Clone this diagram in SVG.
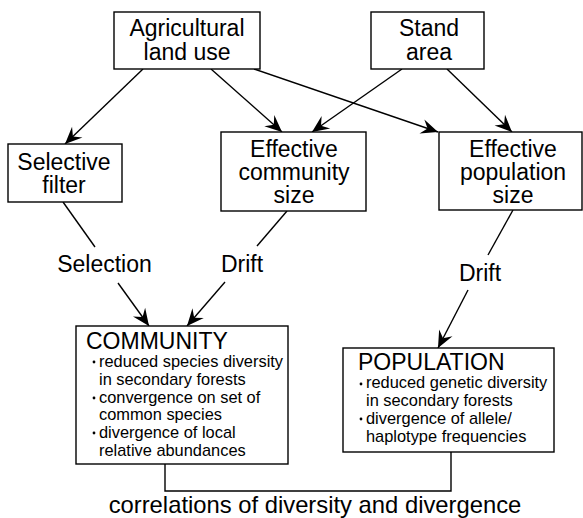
<svg xmlns="http://www.w3.org/2000/svg" width="583" height="518" viewBox="0 0 583 518">
<style>
.box{fill:#fff;stroke:#000;stroke-width:1.4}
.t{font-family:"Liberation Sans",Arial,Helvetica,sans-serif;font-size:23px;fill:#000;text-anchor:middle}
.h{font-family:"Liberation Sans",Arial,Helvetica,sans-serif;font-size:23px;fill:#000}
.b{font-family:"Liberation Sans",Arial,Helvetica,sans-serif;font-size:16.4px;fill:#000}
.ln{fill:none;stroke:#000;stroke-width:1.4}
.ar{fill:none;stroke:#000;stroke-width:1.4;marker-end:url(#ah)}
</style>
<defs>
<marker id="ah" viewBox="-18 -9 19 18" refX="0" refY="0" markerWidth="19" markerHeight="18" markerUnits="userSpaceOnUse" orient="auto">
<path d="M0,0 L-17,-7.5 L-11,0 L-17,7.5 Z" fill="#000"/>
</marker>
</defs>
<rect width="583" height="518" fill="#fff"/>
<g id="connectors">
<line class="ar" x1="143" y1="69" x2="65" y2="144"/>
<line class="ar" x1="211" y1="69" x2="282" y2="132"/>
<line class="ar" x1="254" y1="69" x2="438" y2="132"/>
<line class="ar" x1="402" y1="69" x2="312" y2="132"/>
<line class="ar" x1="447" y1="69" x2="512" y2="132"/>
<line class="ln" x1="63" y1="202" x2="95" y2="247"/>
<line class="ar" x1="118" y1="283" x2="149" y2="326"/>
<line class="ln" x1="287" y1="211" x2="257" y2="246"/>
<line class="ar" x1="225" y1="282" x2="187" y2="326"/>
<line class="ln" x1="513" y1="210" x2="488" y2="255"/>
<line class="ar" x1="468" y1="290" x2="438" y2="348"/>
<path class="ln" d="M165,464 V491 H451 V452"/>
</g>
<g id="labels">
<text class="t" x="104.5" y="272">Selection</text>
<text class="t" x="242" y="272">Drift</text>
<text class="t" x="480" y="281">Drift</text>
<text class="t" x="315" y="513" style="font-size:23.8px">correlations of diversity and divergence</text>
</g>
<g id="agricultural-land-use">
<rect class="box" x="114" y="12" width="146" height="57"/>
<text class="t" x="187" y="36">Agricultural</text>
<text class="t" x="187" y="60">land use</text>
</g>
<g id="stand-area">
<rect class="box" x="371" y="12" width="113" height="57"/>
<text class="t" x="429" y="36">Stand</text>
<text class="t" x="429" y="60">area</text>
</g>
<g id="selective-filter">
<rect class="box" x="8" y="144" width="114" height="58"/>
<text class="t" x="64" y="170">Selective</text>
<text class="t" x="64" y="193">filter</text>
</g>
<g id="effective-community-size">
<rect class="box" x="221" y="132" width="145" height="79"/>
<text class="t" x="294" y="157">Effective</text>
<text class="t" x="294" y="180">community</text>
<text class="t" x="294" y="203">size</text>
</g>
<g id="effective-population-size">
<rect class="box" x="439" y="132" width="143" height="78"/>
<text class="t" x="513" y="157">Effective</text>
<text class="t" x="513" y="180">population</text>
<text class="t" x="513" y="203">size</text>
</g>
<g id="community">
<rect class="box" x="76" y="326" width="212" height="138"/>
<text class="h" x="86" y="349">COMMUNITY</text>
<circle cx="94" cy="362" r="1.4"/>
<text class="b" x="99" y="367">reduced species diversity</text>
<text class="b" x="99" y="385">in secondary forests</text>
<circle cx="94" cy="398" r="1.4"/>
<text class="b" x="99" y="403">convergence on set of</text>
<text class="b" x="99" y="420">common species</text>
<circle cx="94" cy="433" r="1.4"/>
<text class="b" x="99" y="438">divergence of local</text>
<text class="b" x="99" y="456">relative abundances</text>
</g>
<g id="population">
<rect class="box" x="343" y="348" width="211" height="104"/>
<text class="h" x="358" y="370">POPULATION</text>
<circle cx="361" cy="384" r="1.4"/>
<text class="b" x="366" y="388">reduced genetic diversity</text>
<text class="b" x="366" y="406">in secondary forests</text>
<circle cx="361" cy="419" r="1.4"/>
<text class="b" x="366" y="424">divergence of allele/</text>
<text class="b" x="366" y="442">haplotype frequencies</text>
</g>
</svg>
